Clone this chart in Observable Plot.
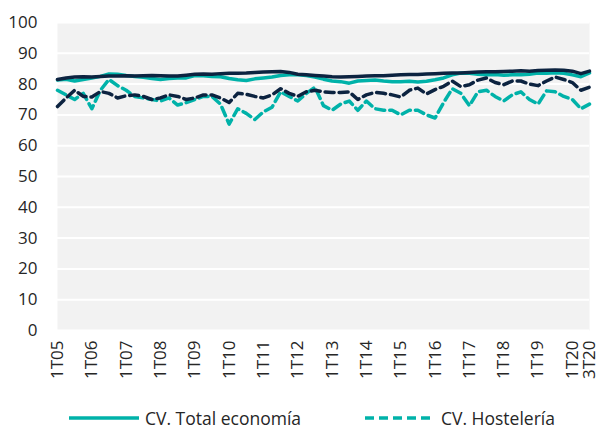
<!DOCTYPE html>
<html><head><meta charset="utf-8">
<script src="https://cdn.jsdelivr.net/npm/d3@7"></script>
<script src="https://cdn.jsdelivr.net/npm/@observablehq/plot@0.6"></script>
<style>
body{margin:0;background:#fff;font-family:"Open Sans",sans-serif;}
#wrap{position:relative;width:609px;height:431px;}
#legend{position:absolute;left:0;top:390px;width:609px;height:41px;}
.item{position:absolute;top:15px;height:26px;display:flex;align-items:center;font-size:17.5px;color:#262626;white-space:nowrap;}
.item svg{margin-right:6px;}
</style></head><body><div id="wrap"><div id="chart"></div><div id="legend"></div></div>
<script>
const quarters = ["1T05","2T05","3T05","4T05","1T06","2T06","3T06","4T06","1T07","2T07","3T07","4T07",
"1T08","2T08","3T08","4T08","1T09","2T09","3T09","4T09","1T10","2T10","3T10","4T10",
"1T11","2T11","3T11","4T11","1T12","2T12","3T12","4T12","1T13","2T13","3T13","4T13",
"1T14","2T14","3T14","4T14","1T15","2T15","3T15","4T15","1T16","2T16","3T16","4T16",
"1T17","2T17","3T17","4T17","1T18","2T18","3T18","4T18","1T19","2T19","3T19","4T19",
"1T20","2T20","3T20"];
const tickLabels = ["1T05","1T06","1T07","1T08","1T09","1T10","1T11","1T12","1T13","1T14","1T15","1T16","1T17","1T18","1T19","1T20","3T20"];
const yTicks = [0,10,20,30,40,50,60,70,80,90,100];

const cvTotal = [81.3,81.6,81.0,81.5,82.0,82.5,83.3,83.2,82.8,82.5,
82.2,81.8,81.5,81.8,82.0,82.0,82.8,82.7,82.5,82.4,
81.8,81.4,81.2,81.7,82.0,82.3,82.8,83.0,83.0,82.8,
82.3,81.6,81.0,80.8,80.3,81.0,81.2,81.3,81.0,80.8,
80.8,80.9,80.7,80.9,81.4,82.0,83.0,83.6,83.5,83.2,
83.0,83.1,82.9,83.0,83.0,83.2,83.6,83.5,83.7,83.5,
83.0,82.4,83.6];
const espTotal = [81.5,82.0,82.3,82.4,82.3,82.5,82.6,82.6,82.7,82.6,
82.7,82.8,82.7,82.6,82.6,82.9,83.2,83.3,83.2,83.4,
83.5,83.5,83.6,83.8,83.9,84.0,84.1,83.8,83.2,83.0,
82.8,82.6,82.4,82.3,82.4,82.5,82.6,82.7,82.7,82.9,
83.0,83.1,83.1,83.3,83.4,83.5,83.6,83.6,83.8,83.9,
84.0,84.0,84.1,84.2,84.3,84.2,84.4,84.5,84.6,84.5,
84.2,83.4,84.2];
const cvHosteleria = [78,76.5,75,77,72,78,81.5,79.5,78,76,
75.5,75,74.5,75.5,73.2,74,75,76,76,73.5,
67,72,70.5,68.5,71,72.5,77.5,76,74.5,77,
79,73,71.5,73.5,74.5,71.5,74.5,72,71.5,71.5,
70,71.5,71.5,70,69,74,78.5,77,73,77.5,
78,76,74.5,76.5,77.5,75,73.5,77.8,77.5,76,
75,72,73.5];
const espHosteleria = [72.7,75.5,78,76,75.8,77.6,77,75.5,76.2,76.5,
76,75,75.5,76.5,76,75,75.5,76.5,76.5,75.5,
74,77,76.7,76,75.5,76.5,78.5,77,76,77.5,
78,77.5,77.3,77.3,77.5,75,76.5,77.3,77,76.5,
75.8,78,78.7,76.8,78.2,79.3,81,79.2,79.8,81.3,
82,80.5,79.8,81,81,80,79.5,81,82.3,81.5,
80.5,78,79];

const teal = "#00B2A9", navy = "#0C2340";
const series = [
  {name:"CV. Total economía", values:cvTotal, color:teal, dash:null, legend:true},
  {name:"CV. Hostelería", values:cvHosteleria, color:teal, dash:"9,5", legend:true},
  {name:"España. Total economía", values:espTotal, color:navy, dash:null, legend:false},
  {name:"España. Hostelería", values:espHosteleria, color:navy, dash:"9,5", legend:false}
];
const rowsOf = s => s.values.map((v,i)=>({q:quarters[i], v}));

const chart = Plot.plot({
  width:609, height:390,
  marginLeft:57, marginRight:20, marginTop:22, marginBottom:60,
  style:{fontFamily:"Open Sans, sans-serif", fontSize:"17px", color:"#262626", background:"transparent"},
  x:{type:"point", domain:quarters, padding:0},
  y:{domain:[0,100]},
  marks:[
    Plot.frame({fill:"#f2f2f2", stroke:null}),
    Plot.gridY(yTicks, {stroke:"#ffffff", strokeOpacity:1, strokeWidth:2}),
    Plot.axisY(yTicks, {tickSize:0, tickPadding:20, label:null, fontSize:17}),
    Plot.axisX(tickLabels, {tickSize:0, tickPadding:10, tickRotate:-90, label:null, fontSize:17}),
    ...series.map(s => Plot.lineY(rowsOf(s), {x:"q", y:"v", stroke:s.color, strokeWidth:3.5,
       strokeDasharray:s.dash, strokeLinejoin:"round"}))
  ]
});
document.getElementById("chart").appendChild(chart);

const legend = document.getElementById("legend");
const pos = [{sw:69, tx:145},{sw:365, tx:441}];
series.filter(s=>s.legend).forEach((s,k)=>{
  const d = document.createElement("div");
  d.className="item";
  d.style.left = pos[k].sw + "px";
  d.innerHTML = `<svg width="70" height="10"><line x1="0" x2="70" y1="5" y2="5" stroke="${s.color}" stroke-width="3.5" ${s.dash?`stroke-dasharray="${s.dash}"`:""}/></svg><span>${s.name}</span>`;
  legend.appendChild(d);
});
</script></body></html>
